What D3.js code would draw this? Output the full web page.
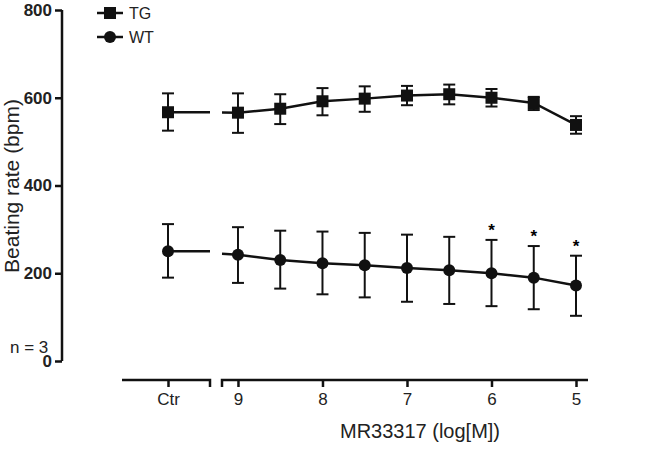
<!DOCTYPE html><html><head><script src="https://cdn.jsdelivr.net/npm/d3@7"></script>
<style>body{margin:0;background:#fff}text{font-family:Arial,"Liberation Sans",sans-serif}</style></head><body>
<svg id="c" width="646" height="449"></svg>
<script>
const doses=[9,8.5,8,7.5,7,6.5,6,5.5,5];
const xTicks=[9,8,7,6,5];
const tgCtr=[567,525,610];
const tgMean=[566,575,592,598,605,608,600,588,538];
const tgLo=[520,540,560,568,583,585,580,572,518];
const tgHi=[610,608,622,626,627,630,620,602,558];
const wtCtr=[250,190,312];
const wtMean=[242,230,223,218,212,207,200,190,172];
const wtLo=[178,165,152,145,135,130,125,118,103];
const wtHi=[305,297,295,292,288,283,276,262,240];
const starDoses=[6,5.5,5];
const yTicks=[0,200,400,600,800];
const svg=d3.select("#c");
const y=d3.scaleLinear().domain([0,800]).range([361,10]);
const x=d3.scaleLinear().domain([9.189,4.858]).range([222,588]);
const xc=d3.scalePoint().domain(["Ctr"]).range([168,168]);
const bk="#111";
const ya=svg.append("g").attr("transform","translate(62,0)").call(d3.axisLeft(y).tickValues(yTicks).tickSize(7).tickPadding(3).tickFormat(d3.format("d")));
ya.selectAll("path,line").attr("stroke",bk).attr("stroke-width",2.5);
ya.selectAll("text").attr("font-size",17).attr("font-weight","bold").attr("fill","#222");
ya.select(".domain").attr("d","M0,361V10");
const xa=svg.append("g").attr("transform","translate(0,380)").call(d3.axisBottom(x).tickValues(xTicks).tickSize(7).tickPadding(6).tickFormat(d3.format("d")));
xa.select(".domain").attr("d","M222,7V0H588");
const xca=svg.append("g").attr("transform","translate(0,380)").call(d3.axisBottom(xc).tickSize(7).tickPadding(6));
xca.select(".domain").attr("d","M122,0H210V7");
[xa,xca].forEach(a=>{a.selectAll("path,line").attr("stroke",bk).attr("stroke-width",2.5);a.selectAll("text").attr("font-size",17).attr("fill","#222");});
svg.append("text").attr("x",420).attr("y",438).attr("text-anchor","middle").attr("font-size",20).attr("fill","#222").text("MR33317 (log[M])");
svg.append("text").attr("transform","translate(19,186) rotate(-90)").attr("text-anchor","middle").attr("font-size",21).attr("fill","#222").text("Beating rate (bpm)");
svg.append("text").attr("x",10).attr("y",353).attr("font-size",17).attr("fill","#222").text("n = 3");
function series(ctr,mean,lo,hi,square){
  const g=svg.append("g");
  const line=d3.line().x(d=>x(d[0])).y(d=>y(d[1]));
  g.append("path").attr("d",line(doses.map((d,i)=>[d,mean[i]]))).attr("fill","none").attr("stroke",bk).attr("stroke-width",2.5);
  g.append("line").attr("x1",xc("Ctr")).attr("x2",210).attr("y1",y(ctr[0])).attr("y2",y(ctr[0])).attr("stroke",bk).attr("stroke-width",2.5);
  g.append("line").attr("x1",222).attr("x2",x(doses[0])).attr("y1",y(mean[0])+(y(ctr[0])-y(mean[0]))*0.3).attr("y2",y(mean[0])).attr("stroke",bk).attr("stroke-width",2.5);
  const pts=[{cx:xc("Ctr"),m:ctr[0],l:ctr[1],h:ctr[2]}].concat(doses.map((d,i)=>({cx:x(d),m:mean[i],l:lo[i],h:hi[i]})));
  pts.forEach(p=>{
    g.append("line").attr("x1",p.cx).attr("x2",p.cx).attr("y1",y(p.l)).attr("y2",y(p.h)).attr("stroke",bk).attr("stroke-width",2);
    [p.l,p.h].forEach(v=>g.append("line").attr("x1",p.cx-6).attr("x2",p.cx+6).attr("y1",y(v)).attr("y2",y(v)).attr("stroke",bk).attr("stroke-width",2));
    if(square)g.append("rect").attr("x",p.cx-6).attr("y",y(p.m)-6).attr("width",12).attr("height",12).attr("fill",bk);
    else g.append("circle").attr("cx",p.cx).attr("cy",y(p.m)).attr("r",6).attr("fill",bk);
  });
}
series(tgCtr,tgMean,tgLo,tgHi,true);
series(wtCtr,wtMean,wtLo,wtHi,false);
starDoses.forEach(d=>{const i=doses.indexOf(d);svg.append("text").attr("x",x(d)).attr("y",y(wtHi[i])-4).attr("text-anchor","middle").attr("font-size",17).attr("font-weight","bold").text("*");});
[["TG",true,13],["WT",false,37]].forEach(([t,sq,yy])=>{
  svg.append("line").attr("x1",97).attr("x2",123).attr("y1",yy).attr("y2",yy).attr("stroke",bk).attr("stroke-width",2.5);
  if(sq)svg.append("rect").attr("x",104).attr("y",yy-6).attr("width",12).attr("height",12).attr("fill",bk);
  else svg.append("circle").attr("cx",110).attr("cy",yy).attr("r",6).attr("fill",bk);
  svg.append("text").attr("x",129).attr("y",yy+6).attr("font-size",16).attr("fill","#222").text(t);
});
</script></body></html>
